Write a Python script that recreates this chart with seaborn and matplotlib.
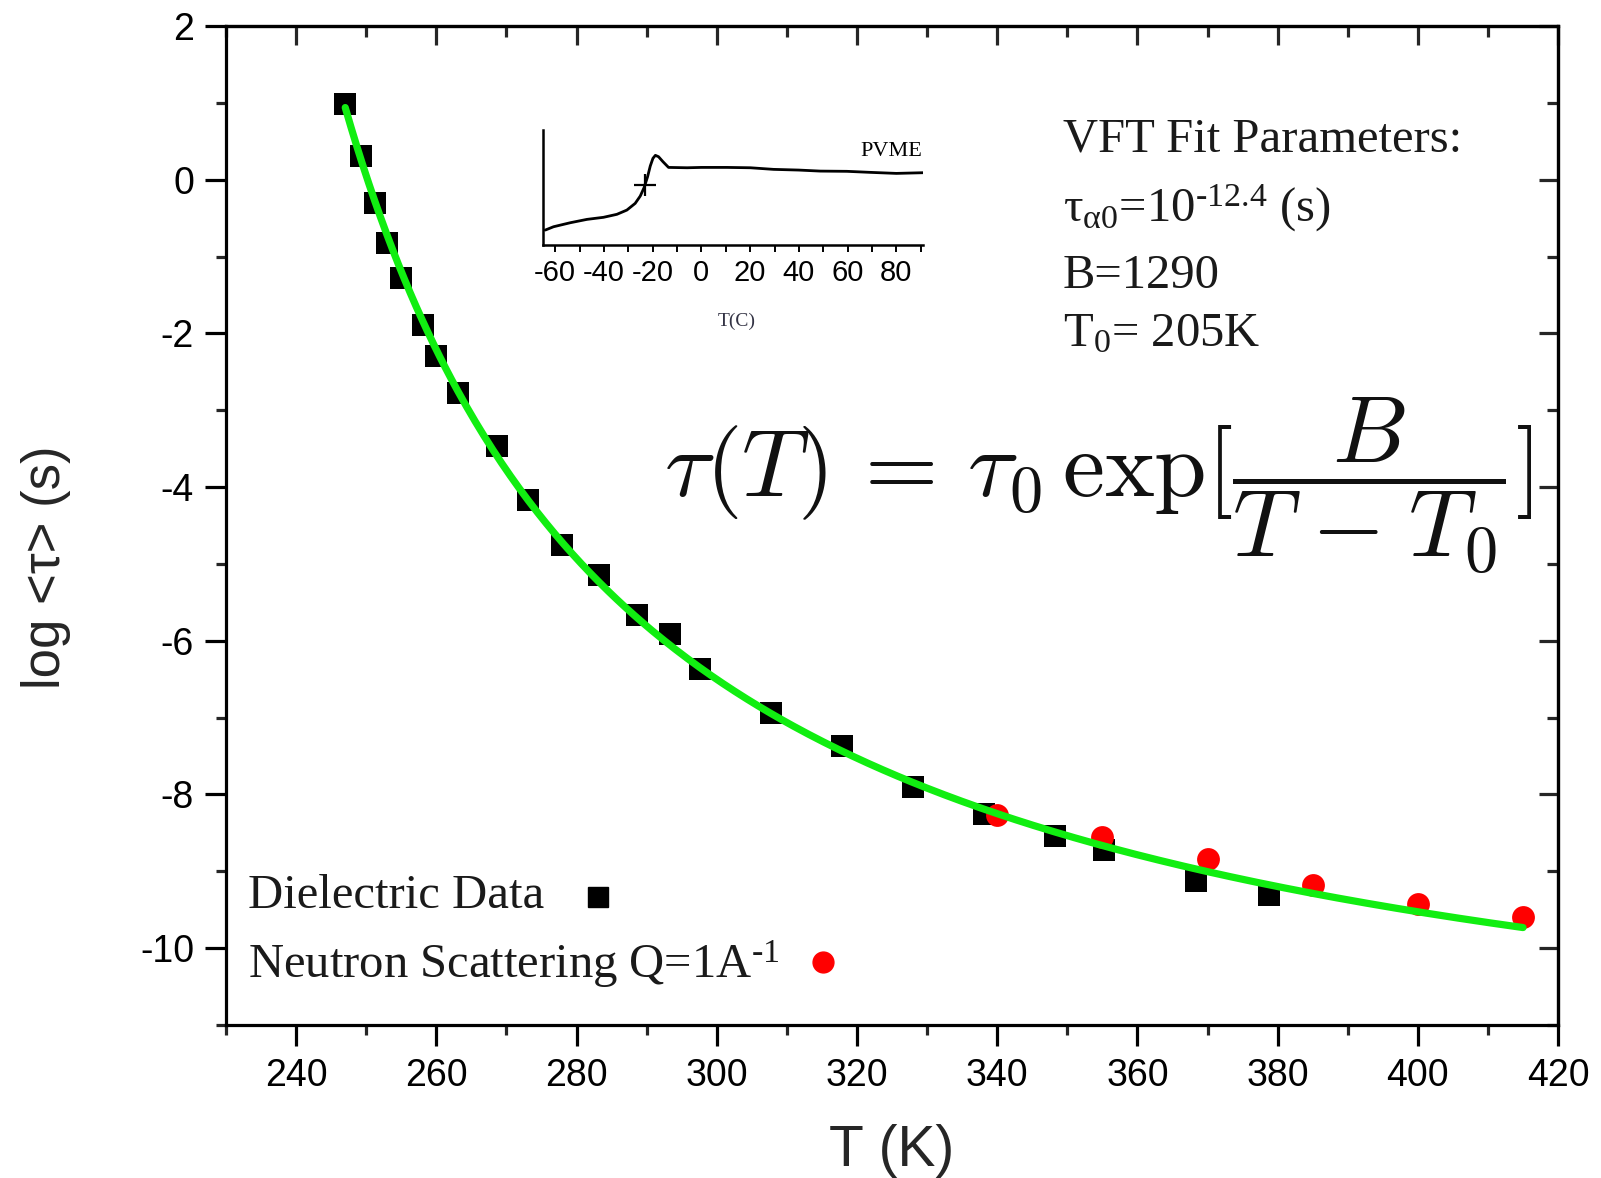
import numpy as np
import pandas as pd
import matplotlib
matplotlib.use("Agg")
import matplotlib.pyplot as plt
from matplotlib.ticker import MultipleLocator
import seaborn as sns

# Dielectric relaxation data
diel_T = [247.0, 249.2, 251.2, 253.0, 254.9, 258.1, 260.0, 263.1, 268.6, 273.1,
          277.9, 283.2, 288.6, 293.3, 297.6, 307.8, 317.8, 328.0, 338.1, 348.3,
          355.2, 368.4, 378.8]
diel_logtau = [0.99, 0.31, -0.30, -0.83, -1.28, -1.89, -2.29, -2.77, -3.46, -4.17,
               -4.75, -5.15, -5.67, -5.91, -6.37, -6.94, -7.37, -7.90, -8.25, -8.54,
               -8.72, -9.12, -9.31]

# Neutron scattering data, Q = 1 A^-1
neut_T = [340, 355, 370, 385, 400, 415]
neut_logtau = [-8.27, -8.56, -8.84, -9.18, -9.42, -9.60]

# VFT fit parameters
log_tau0 = -12.4
B_param = 1290.0
T0_param = 205.0
fit_T_range = (247.0, 415.0)

# DSC trace of PVME (arbitrary heat-flow units)
dsc_T = [-64.1, -60.7, -53.8, -47.0, -40.2, -34.7, -30.6, -27.2, -25.1, -23.5,
         -22.1, -21.0, -19.9, -18.9, -17.6, -15.8, -13.5, -5.9, 0.0, 10.5,
         20.1, 29.6, 39.9, 48.8, 59.7, 69.3, 80.0, 91.2]
dsc_signal = [0.130, 0.159, 0.194, 0.223, 0.241, 0.267, 0.304, 0.362, 0.426, 0.501,
              0.594, 0.687, 0.754, 0.780, 0.768, 0.725, 0.675, 0.672, 0.675, 0.675,
              0.672, 0.658, 0.652, 0.643, 0.641, 0.632, 0.623, 0.629]
tg_T = [-23.1]
tg_signal = [0.522]

sns.set_style("ticks")
plt.rcParams["font.family"] = ["Liberation Sans", "DejaVu Sans"]
plt.rcParams["axes.unicode_minus"] = False
plt.rcParams["mathtext.fontset"] = "custom"
plt.rcParams["mathtext.rm"] = "Liberation Serif"
plt.rcParams["mathtext.it"] = "Liberation Serif:italic"

fig = plt.figure(figsize=(16.01, 11.78), dpi=100)
ax = fig.add_axes([0.1412, 0.1299, 0.8320, 0.8480])

diel_df = pd.DataFrame({"T": diel_T, "logtau": diel_logtau})
neut_df = pd.DataFrame({"T": neut_T, "logtau": neut_logtau})
T_fit = np.linspace(fit_T_range[0], fit_T_range[1], 400)
fit_df = pd.DataFrame({"T": T_fit,
                       "logtau": log_tau0 + B_param / (T_fit - T0_param) / np.log(10)})

sns.scatterplot(data=diel_df, x="T", y="logtau", marker="s", s=250, color="black",
                linewidth=0, ax=ax, zorder=3)
sns.scatterplot(data=neut_df, x="T", y="logtau", marker="o", s=270, color="#ff0000",
                linewidth=0, ax=ax, zorder=4)
sns.lineplot(data=fit_df, x="T", y="logtau", color="#11ee11", linewidth=5.2,
             ax=ax, zorder=5)

ax.set_xlim(230, 420)
ax.set_ylim(-11, 2)
ax.xaxis.set_major_locator(MultipleLocator(20))
ax.xaxis.set_minor_locator(MultipleLocator(10))
ax.yaxis.set_major_locator(MultipleLocator(2))
ax.yaxis.set_minor_locator(MultipleLocator(1))
for s in ax.spines.values():
    s.set_linewidth(2.3)
    s.set_color("black")
ax.tick_params(axis="both", which="major", length=15, width=2.3, labelsize=27,
               colors="black", direction="out")
ax.tick_params(axis="both", which="minor", length=7.5, width=2.3, direction="out")
ax.tick_params(axis="x", which="major", pad=9)
ax.tick_params(axis="y", which="major", pad=8)

# mirrored ticks on top and right, pointing inwards
secx = ax.secondary_xaxis("top")
secx.xaxis.set_major_locator(MultipleLocator(20))
secx.xaxis.set_minor_locator(MultipleLocator(10))
secx.tick_params(which="major", direction="in", length=14, width=2.3, labeltop=False)
secx.tick_params(which="minor", direction="in", length=8, width=2.3)
secx.spines["top"].set_linewidth(2.3)
secy = ax.secondary_yaxis("right")
secy.yaxis.set_major_locator(MultipleLocator(2))
secy.yaxis.set_minor_locator(MultipleLocator(1))
secy.tick_params(which="major", direction="in", length=14, width=2.3, labelright=False)
secy.tick_params(which="minor", direction="in", length=8, width=2.3)
secy.spines["right"].set_linewidth(2.3)

ax.set_xlabel("T (K)", fontsize=41)
ax.set_ylabel("log <τ> (s)", fontsize=38)
ax.xaxis.label.set_va("center")
ax.yaxis.label.set_va("center")
ax.xaxis.set_label_coords(0.5, -0.126)
ax.yaxis.set_label_coords(-0.135, 0.458)

serif = ["Liberation Serif", "DejaVu Serif"]
text_color = "#1a1a1a"
param_lines = [
    (0.8865, "VFT Fit Parameters:"),
    (0.818, r"τ$_{\mathrm{α0}}$=10$^{\text{-12.4}}$ (s)"),
    (0.7495, "B=1290"),
    (0.691, r"T$_{\mathrm{0}}$= 205K"),
]
for yy, txt in param_lines:
    ax.text(0.628, yy, txt, transform=ax.transAxes, fontsize=35, family=serif,
            va="center", ha="left", color=text_color)

ax.text(0.329, 0.540,
        r"$\tau(T)\,=\,\tau_0\,\exp[\dfrac{B}{T\hspace{0.09}-\hspace{0.09}T_0}]$",
        transform=ax.transAxes, fontsize=68, math_fontfamily="cm",
        va="center", ha="left", color="#111111")

# legend: label followed by its marker
ax.text(0.0166, 0.129, "Dielectric Data", transform=ax.transAxes, fontsize=35,
        family=serif, va="center", ha="left", color=text_color)
ax.plot([0.279], [0.128], marker="s", markersize=15, color="black",
        linestyle="none", transform=ax.transAxes, clip_on=False)
ax.text(0.0166, 0.0613, r"Neutron Scattering Q=1A$^{\text{-1}}$",
        transform=ax.transAxes, fontsize=35, family=serif, va="center",
        ha="left", color=text_color)
ax.plot([0.448], [0.063], marker="o", markersize=15, color="#ff0000",
        linestyle="none", transform=ax.transAxes, clip_on=False)

# inset: DSC trace
ins = fig.add_axes([0.3392, 0.792, 0.2374, 0.0976])
ins.set_facecolor("none")
dsc_df = pd.DataFrame({"T": dsc_T, "signal": dsc_signal})
sns.lineplot(data=dsc_df, x="T", y="signal", color="black", linewidth=2.0, ax=ins)
ins.plot(tg_T, tg_signal, marker="+", markersize=16, markeredgewidth=1.6,
         color="black", linestyle="none")
ins.set_xlim(-65, 91)
ins.set_ylim(0, 1)
ins.xaxis.set_major_locator(MultipleLocator(20))
ins.xaxis.set_minor_locator(MultipleLocator(10))
ins.set_yticks([])
ins.set_xlabel("")
ins.set_ylabel("")
for side in ["top", "right"]:
    ins.spines[side].set_visible(False)
for side in ["left", "bottom"]:
    ins.spines[side].set_linewidth(1.8)
    ins.spines[side].set_color("black")
ins.tick_params(axis="x", which="both", direction="out", length=5, width=1.4,
                labelsize=21, pad=5, colors="black")
ins.text(0.916, 0.817, "PVME", transform=ins.transAxes, fontsize=16,
         family=serif, ha="center", va="center", color="black")
fig.text(0.4603, 0.7275, "T(C)", fontsize=14, family=serif, ha="center",
         va="center", color="#333344")

fig.savefig("out.png", dpi=100, facecolor="white")
